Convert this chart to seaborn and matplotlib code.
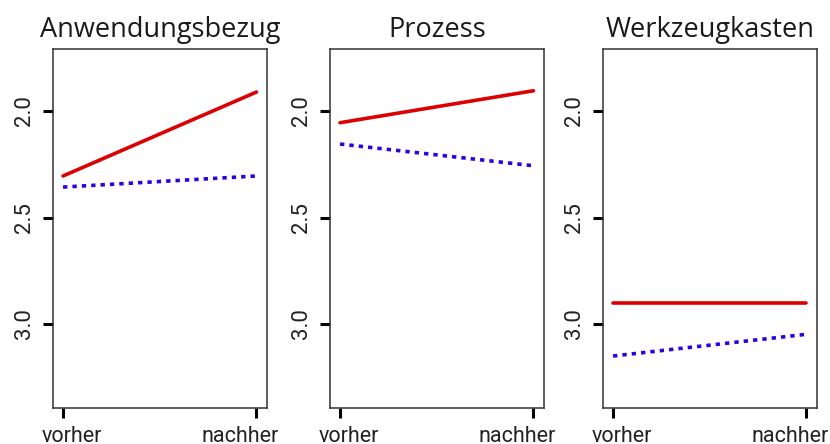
import matplotlib
matplotlib.use("Agg")
import matplotlib.pyplot as plt
import seaborn as sns
import pandas as pd

panels = ["Anwendungsbezug", "Prozess", "Werkzeugkasten"]
times = ["vorher", "nachher"]
groups = ["A", "B"]
red_vals = [[2.305, 1.911], [2.055, 1.905], [2.90, 2.90]]
blue_vals = [[2.357, 2.305], [2.155, 2.257], [3.15, 3.048]]
yticks = [2.0, 2.5, 3.0]
ytick_labels = ["2.0", "2.5", "3.0"]

sns.set_style("white")
plt.rcParams["font.family"] = ["Roboto", "DejaVu Sans"]
fig = plt.figure(figsize=(8.3, 4.44), dpi=100)

lefts = [53, 330, 603]
width_px = 213.5
bottom = 1 - 408 / 444
top = 1 - 49 / 444
label_shift = [0.044, -0.085]  # label offsets from tick (data units)

for i, name in enumerate(panels):
    ax = fig.add_axes([lefts[i] / 830, bottom, width_px / 830, top - bottom])
    df = pd.DataFrame({
        "Zeit": times * 2,
        "Wert": red_vals[i] + blue_vals[i],
        "Gruppe": [groups[0]] * 2 + [groups[1]] * 2,
    })
    sns.lineplot(data=df, x="Zeit", y="Wert", hue="Gruppe", style="Gruppe",
                 palette={"A": "#DD0000", "B": "#2A00E6"},
                 dashes={"A": "", "B": (1.2, 1.4)},
                 linewidth=2.6, legend=False, ax=ax, sort=False)
    ax.set_xlim(-0.052, 1.052)
    ax.set_ylim(3.394, 1.709)
    ax.set_yticks(yticks)
    ax.set_yticklabels(ytick_labels, rotation=90, va="center",
                       family=["Roboto", "DejaVu Sans"], fontsize=16, color="#222222")
    ax.set_xticks([0, 1])
    ax.set_xticklabels(["", ""])
    ax.set_xticks([0 + label_shift[0], 1 + label_shift[1]], minor=True)
    ax.set_xticklabels(times, minor=True, family=["Roboto", "DejaVu Sans"],
                       fontsize=15.5, color="#222222")
    ax.set_xlabel("")
    ax.set_ylabel("")
    ax.tick_params(axis="both", which="major", direction="out", length=7,
                   width=2.2, color="black", left=True, bottom=True)
    ax.tick_params(axis="x", which="minor", length=0, pad=13, bottom=True)
    ax.tick_params(axis="y", pad=6)
    for s in ax.spines.values():
        s.set_visible(True)
        s.set_linewidth(1.1)
        s.set_color("#333333")
    ax.text(0.5, 1.0 + 12 / 359, name, transform=ax.transAxes, ha="center",
            va="baseline", family=["Open Sans", "DejaVu Sans"], fontsize=19.5,
            color="#1a1a1a")

fig.savefig("out.png", dpi=100)
